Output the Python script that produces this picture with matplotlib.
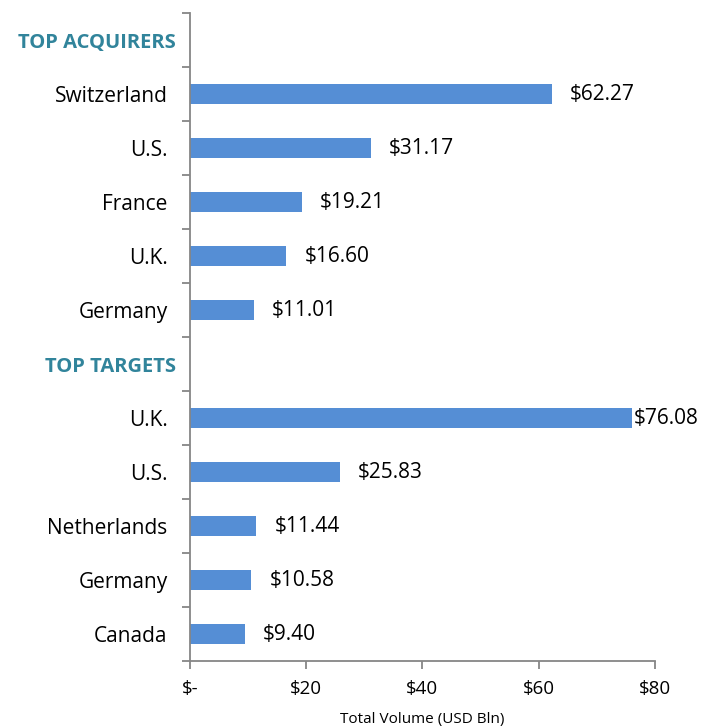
import matplotlib.pyplot as plt

# rows from top to bottom, header rows have no bar
labels = ['TOP ACQUIRERS', 'Switzerland', 'U.S.', 'France', 'U.K.', 'Germany',
          'TOP TARGETS', 'U.K.', 'U.S.', 'Netherlands', 'Germany', 'Canada']
values = [None, 62.27, 31.17, 19.21, 16.60, 11.01,
          None, 76.08, 25.83, 11.44, 10.58, 9.40]
header_rows = [0, 6]
x_ticks = [0, 20, 40, 60, 80]
x_tick_labels = ['$-', '$20', '$40', '$60', '$80']

bar_color = '#558ED5'
head_color = '#31849B'
axis_color = '#868686'

plt.rcParams['font.family'] = ['Open Sans', 'DejaVu Sans']

fig = plt.figure(figsize=(7.01, 7.28), dpi=100)
ax = fig.add_axes([0.271, 0.092, 0.663, 0.89])

n = len(labels)
ypos = list(range(n))
for y, v in zip(ypos, values):
    if v is None:
        continue
    ax.barh(y, v, height=0.38, color=bar_color)
    off = 1 if v > 70 else 13
    ax.annotate('$%.2f' % v, (v, y), xytext=(off, 0), textcoords='offset points',
                va='center', ha='left', fontsize=15, color='black')

ax.set_ylim(n - 0.5, -0.5)
ax.set_xlim(0, 80)

# category ticks between rows
ax.set_yticks([i - 0.5 for i in range(n + 1)])
ax.set_yticklabels([])
ax.set_yticks(ypos, minor=True)
ax.set_yticklabels(labels, minor=True)
ax.tick_params(axis='y', which='minor', length=0, pad=16, labelsize=15)
ax.tick_params(axis='y', which='major', length=6, width=1.3, color=axis_color)
for i, t in enumerate(ax.get_yticklabels(minor=True)):
    if i in header_rows:
        t.set_color(head_color)
        t.set_fontweight('bold')
        t.set_fontsize(14.5)
        t.set_x(0.017)

ax.set_xticks(x_ticks)
ax.set_xticklabels(x_tick_labels, fontsize=13.5)
ax.tick_params(axis='x', length=6, width=1.3, color=axis_color, pad=8)
ax.set_xlabel('Total Volume (USD Bln)', fontsize=11, labelpad=10)

for s in ['top', 'right']:
    ax.spines[s].set_visible(False)
for s in ['left', 'bottom']:
    ax.spines[s].set_color(axis_color)
    ax.spines[s].set_linewidth(1.3)

plt.savefig('out.png', dpi=100)
